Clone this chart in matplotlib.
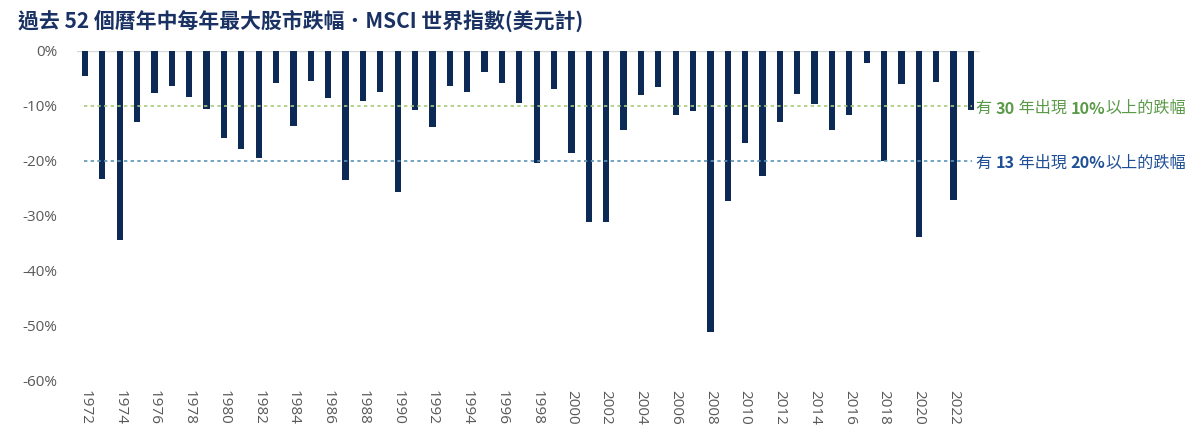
import matplotlib
matplotlib.use("Agg")
import matplotlib.pyplot as plt
import numpy as np

years = list(range(1972, 2024))
drawdowns = [-4.6, -23.4, -34.4, -12.9, -7.7, -6.3, -8.4, -10.5, -15.9, -17.8,
             -19.5, -5.8, -13.6, -5.4, -8.6, -23.5, -9.1, -7.4, -25.7, -10.8,
             -13.9, -6.4, -7.5, -3.9, -5.9, -9.5, -20.4, -6.9, -18.6, -31.2,
             -31.2, -14.4, -8.0, -6.6, -11.6, -10.9, -51.2, -27.4, -16.7, -22.8,
             -13.0, -7.8, -9.7, -14.4, -11.6, -2.1, -20.1, -6.0, -34.0, -5.6,
             -27.1, -10.8]
yticks = [0, -10, -20, -30, -40, -50, -60]
ytick_labels = ["0%", "-10%", "-20%", "-30%", "-40%", "-50%", "-60%"]
xtick_years = list(range(1972, 2024, 2))
title = "過去 52 個曆年中每年最大股市跌幅．MSCI 世界指數(美元計)"
ref_levels = [-10, -20]
ref_texts = [
    [("有 ", "normal"), ("30", "bold"), (" 年出現 ", "normal"), ("10%", "bold"), ("以上的跌幅", "normal")],
    [("有 ", "normal"), ("13", "bold"), (" 年出現 ", "normal"), ("20%", "bold"), ("以上的跌幅", "normal")],
]
ref_line_colors = ["#a8c97a", "#5b93b8"]
ref_text_colors = ["#5a9a48", "#1f4f96"]

cjk = ["Noto Sans CJK TC", "DejaVu Sans"]
plt.rcParams["font.family"] = cjk

fig = plt.figure(figsize=(12, 4.41), dpi=100)
ax = fig.add_axes([77 / 1200, 61 / 441, 903 / 1200, 329 / 441])

ax.bar(years, drawdowns, width=0.36, color="#0c2a55", zorder=3)
ax.set_xlim(1971.54, 2023.52)
ax.set_ylim(-60, 0)

for s in ax.spines.values():
    s.set_visible(False)
ax.axhline(0, color="#d9d9d9", lw=1, zorder=1)

ax.set_yticks(yticks)
ax.set_yticklabels(ytick_labels, fontfamily="Open Sans", fontsize=11, color="#595959")
ax.set_xticks(xtick_years)
ax.set_xticklabels([str(y) for y in xtick_years], rotation=270, fontfamily="Open Sans",
                   fontsize=11, color="#595959")
ax.tick_params(length=0, pad=7)
ax.tick_params(axis="y", pad=14)

for lvl, lc, tc, segs in zip(ref_levels, ref_line_colors, ref_text_colors, ref_texts):
    ax.plot([1971.95, 2023.05], [lvl, lvl], ls=(0, (2, 2)), color=lc, lw=1.2, zorder=4,
            clip_on=False)
    prev = None
    for txt, w in segs:
        if prev is None:
            prev = ax.annotate(txt, xy=(2023.28, lvl), xycoords="data", xytext=(0, -7.8),
                               textcoords="offset points", ha="left", va="bottom",
                               fontsize=11.6, color=tc, fontweight=w, annotation_clip=False)
        else:
            prev = ax.annotate(txt, xy=(1, 0), xycoords=prev, ha="left", va="bottom",
                               fontsize=11.6, color=tc, fontweight=w, annotation_clip=False)

fig.text(18 / 1200, 1 - 21 / 441, title, fontsize=15, fontweight="bold", color="#1a3263",
         ha="left", va="center")

fig.savefig("out.png", dpi=100)
